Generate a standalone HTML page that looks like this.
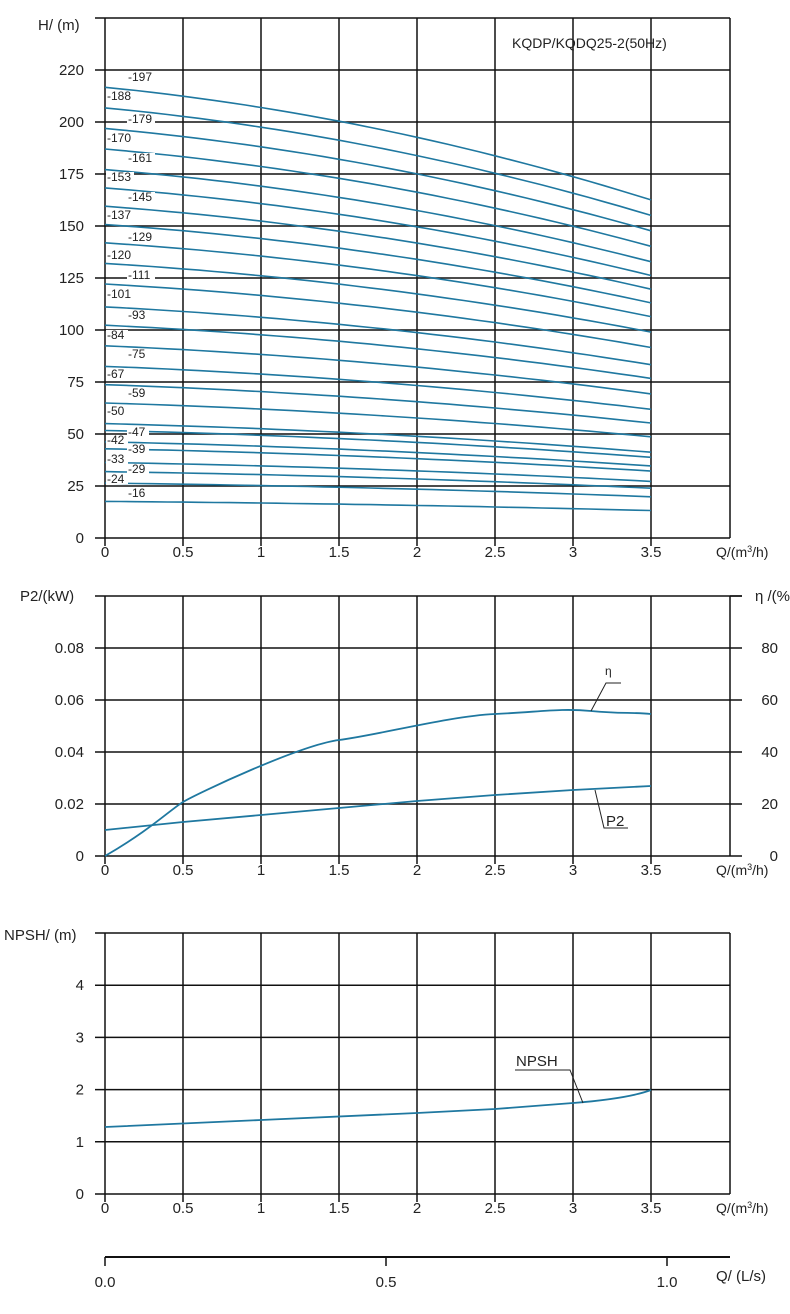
<!DOCTYPE html>
<html><head><meta charset="utf-8"><style>
body{margin:0;background:#fff;}
svg{display:block;font-family:"Liberation Sans",Arial,sans-serif;}
</style></head><body>
<svg id="s" width="790" height="1314" viewBox="0 0 790 1314" xmlns="http://www.w3.org/2000/svg"></svg>
<script>
const S=document.getElementById('s');const NS='http://www.w3.org/2000/svg';
function el(t,a,txt){const e=document.createElementNS(NS,t);for(const k in a)e.setAttribute(k,a[k]);if(txt!==undefined)e.textContent=txt;S.appendChild(e);return e;}
function line(x1,y1,x2,y2,w,c){el('line',{x1,y1,x2,y2,stroke:c||'#111','stroke-width':w||1.5});}
function text(x,y,t,o){o=o||{};el('text',Object.assign({x,y,'font-size':15,fill:'#222'},o),t);}
const X0=105,DX=78,XR=730;
const xs=[];for(let i=0;i<=8;i++)xs.push(X0+i*DX);
function grid(top,bottom,ys){
  for(let i=0;i<8;i++)line(xs[i],top,xs[i],bottom+8,1.5);
  line(XR,top,XR,bottom,1.5);
  line(95,top,XR,top,1.5);
  ys.forEach(y=>line(95,y,XR,y,1.5));
  const lab=['0','0.5','1','1.5','2','2.5','3','3.5'];
  lab.forEach((l,i)=>text(xs[i],bottom+19,l,{'text-anchor':'middle'}));
  el('text',{x:716,y:bottom+19,'font-size':14,fill:'#222'}).innerHTML='Q/(m<tspan font-size="9" dy="-5">3</tspan><tspan dy="5">/h)</tspan>';
}
// Chart 1
const c1=[];for(let k=0;k<10;k++)c1.push(538-k*52);
grid(18,538,c1);
['0','25','50','75','100','125','150','175','200','220'].forEach((l,k)=>text(84,c1[k]+5,l,{'text-anchor':'end'}));
text(38,30,'H/ (m)');
text(512,48,'KQDP/KQDQ25-2(50Hz)',{'font-size':14});
const col='#1f78a0';
const Ns=[197,188,179,170,161,153,145,137,129,120,111,101,93,84,75,67,59,50,47,42,39,33,29,24,16];
const LY=[81,100,123,142,162,181,201,219,241,259,279,298,319,339,358,378,397,415,436,444,453,463,473,483,497];
Ns.forEach((N,i)=>{
  const H0=1.1*N;let d='';
  for(let j=0;j<=35;j++){const t=j/35;const H=H0*(1-0.12*t-0.13*t*t);const x=X0+t*546;const y=538-H*2.08;d+=(j?'L':'M')+x.toFixed(1)+' '+y.toFixed(1);}
  el('path',{d,fill:'none',stroke:col,'stroke-width':1.6});
});
Ns.forEach((N,i)=>{
  const x=(i%2==0)?128:107;
  el('rect',{x:x-1,y:LY[i]-9,width:N>=100?28:22,height:10,fill:'#fff'});
  text(x,LY[i],'-'+N,{'font-size':12});
});
// Chart 2
const c2=[];for(let k=0;k<6;k++)c2.push(856-k*52);
grid(596,856,c2.slice(0,5));
line(XR,596,742,596,1.5);c2.forEach(y=>line(XR,y,742,y,1.5));
['0','0.02','0.04','0.06','0.08'].forEach((l,k)=>text(84,c2[k]+5,l,{'text-anchor':'end'}));
['0','20','40','60','80'].forEach((l,k)=>text(778,c2[k]+5,l,{'text-anchor':'end'}));
text(20,601,'P2/(kW)');text(755,601,'η /(%');
el('path',{d:'M105 856 C150 830 170 810 183 802 S300 745 339 740 S450 716 495 714 S560 708 591 711 S630 712 651 714',fill:'none',stroke:col,'stroke-width':1.8});
el('path',{d:'M105 830 L183 822 L261 815 L339 808 L417 801 L495 795 L573 790 L651 786',fill:'none',stroke:col,'stroke-width':1.8});
el('polyline',{points:'591,711 606,683 621,683',fill:'none',stroke:'#222','stroke-width':1});
text(605,675,'η',{'font-size':12});
el('polyline',{points:'595,790 604,828 628,828',fill:'none',stroke:'#222','stroke-width':1});
text(606,826,'P2');
// Chart 3
const c3=[];for(let k=0;k<6;k++)c3.push(1194-k*52.2);
grid(933,1194,c3.slice(0,5));
['0','1','2','3','4'].forEach((l,k)=>text(84,c3[k]+5,l,{'text-anchor':'end'}));
text(4,940,'NPSH/ (m)');
el('path',{d:'M105 1127 L261 1120 L417 1113 L495 1109 L573 1103 C610 1100 635 1096 651 1090',fill:'none',stroke:col,'stroke-width':1.8});
el('polyline',{points:'515,1070 570,1070 583,1103',fill:'none',stroke:'#222','stroke-width':1});
text(516,1066,'NPSH');
// L/s axis
line(105,1257,730,1257,2);
[105,386,667].forEach(x=>line(x,1257,x,1266,1.5));
text(105,1287,'0.0',{'text-anchor':'middle'});text(386,1287,'0.5',{'text-anchor':'middle'});text(667,1287,'1.0',{'text-anchor':'middle'});
text(716,1281,'Q/ (L/s)');
</script>
</body></html>
